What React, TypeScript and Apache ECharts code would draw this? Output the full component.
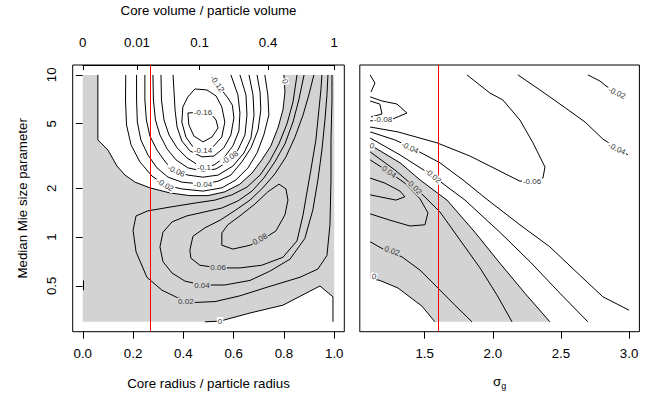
import React, { useEffect, useRef } from "react";
import * as echarts from "echarts";

type P = [number, number];
type L = [number, number, string];

// ---------- axes / ticks ----------
const leftXRange = [0, 1];
const rightXRange = [1.1, 3.0];
const yRange = [0.3, 10];
const leftXTicks = [0, 0.2, 0.4, 0.6, 0.8, 1.0];
const rightXTicks = [1.5, 2.0, 2.5, 3.0];
const yTicks = [0.5, 1, 2, 5, 10];
const volumeTicks = [0, 0.01, 0.1, 0.4, 1];
const leftRedX = 0.27;
const rightRedX = 1.6;

// ---------- left panel: core radius ratio vs median size parameter ----------
const leftZeroUpper: P[] = [[0.060,10],[0.060,3.97],[0.100,3.44],[0.136,2.74],[0.168,2.41],[0.208,2.18],[0.267,2.01],[0.347,1.87],[0.426,1.80],[0.498,1.80],[0.565,1.90],[0.625,2.12],[0.673,2.48],[0.712,2.99],[0.748,3.65],[0.776,4.70],[0.796,6.07],[0.804,7.84],[0.800,10]];
const leftZeroLower: P[] = [[0.486,0.30],[0.546,0.303],[0.665,0.34],[0.796,0.38],[0.943,0.499],[0.995,0.428],[0.995,0.30]];
const leftM002: P[] = [[0.171,10],[0.170,7.0],[0.174,4.91],[0.192,3.70],[0.227,2.91],[0.275,2.38],[0.327,2.09],[0.394,1.98],[0.478,1.92],[0.553,2.01],[0.609,2.25],[0.657,2.67],[0.693,3.30],[0.720,4.26],[0.740,5.66],[0.736,7.52],[0.724,10]];
const leftM004: P[] = [[0.214,10],[0.214,7.0],[0.217,5.12],[0.231,3.97],[0.259,3.21],[0.295,2.67],[0.339,2.34],[0.394,2.18],[0.478,2.12],[0.538,2.21],[0.589,2.41],[0.633,2.91],[0.669,3.55],[0.697,4.57],[0.708,6.07],[0.705,7.84],[0.693,10]];
const leftM006: P[] = [[0.247,10],[0.247,7.0],[0.253,5.27],[0.267,4.20],[0.295,3.44],[0.331,2.87],[0.367,2.55],[0.418,2.41],[0.478,2.34],[0.538,2.41],[0.597,2.74],[0.641,3.30],[0.669,4.08],[0.681,5.66],[0.677,7.52],[0.661,10]];
const leftM008: P[] = [[0.279,10],[0.281,7.0],[0.289,5.27],[0.307,4.26],[0.335,3.50],[0.371,2.99],[0.418,2.67],[0.478,2.55],[0.530,2.63],[0.577,2.91],[0.617,3.44],[0.645,4.26],[0.653,5.66],[0.649,7.52],[0.625,10]];
const leftM010: P[] = [[0.311,10],[0.313,7.0],[0.323,5.27],[0.343,4.26],[0.375,3.55],[0.414,3.08],[0.458,2.78],[0.486,2.70],[0.522,2.78],[0.561,3.08],[0.597,3.65],[0.621,4.51],[0.625,5.82],[0.617,7.52],[0.589,10]];
const leftM012: P[] = [[0.359,10],[0.363,7.84],[0.367,6.07],[0.375,4.77],[0.394,3.91],[0.426,3.40],[0.474,3.12],[0.522,3.16],[0.561,3.55],[0.589,4.26],[0.601,5.42],[0.595,6.5],[0.577,7.21],[0.546,8.3],[0.514,10]];
const leftM014: P[] = [[0.398,6.34],[0.418,7.32],[0.446,8.19],[0.494,8.07],[0.530,7.42],[0.553,6.34],[0.565,5.12],[0.553,4.14],[0.518,3.60],[0.478,3.44],[0.438,3.60],[0.410,4.14],[0.394,5.12],[0.398,6.34]];
const leftM016: P[] = [[0.418,5.82],[0.478,5.90],[0.506,5.82],[0.530,5.27],[0.538,4.70],[0.514,4.14],[0.478,3.86],[0.442,4.20],[0.422,4.91],[0.418,5.82]];
const leftP002: P[] = [[0.852,10],[0.836,6.80],[0.812,4.98],[0.780,3.75],[0.744,2.95],[0.705,2.41],[0.653,2.03],[0.593,1.82],[0.526,1.69],[0.446,1.62],[0.347,1.53],[0.259,1.45],[0.212,1.35],[0.200,1.10],[0.212,0.81],[0.255,0.565],[0.315,0.47],[0.375,0.424],[0.446,0.395],[0.526,0.40],[0.625,0.434],[0.736,0.492],[0.864,0.565],[0.935,0.635],[0.971,0.77],[0.983,1.19],[0.987,2.25],[0.987,3.97],[0.991,7.0],[0.991,10]];
const leftP004: P[] = [[0.880,10],[0.859,7.0],[0.836,5.12],[0.804,3.75],[0.764,2.91],[0.720,2.31],[0.673,1.92],[0.617,1.67],[0.553,1.51],[0.486,1.43],[0.414,1.35],[0.355,1.24],[0.319,1.07],[0.307,0.87],[0.319,0.705],[0.355,0.60],[0.406,0.535],[0.474,0.506],[0.565,0.506],[0.665,0.54],[0.744,0.616],[0.824,0.73],[0.883,0.98],[0.915,1.47],[0.935,2.25],[0.951,3.44],[0.963,5.27],[0.971,7.52],[0.975,10]];
const leftP006: P[] = [[0.919,10],[0.899,7.52],[0.876,5.66],[0.844,4.14],[0.808,3.12],[0.764,2.45],[0.716,2.01],[0.665,1.69],[0.609,1.47],[0.546,1.27],[0.486,1.14],[0.438,1.01],[0.426,0.83],[0.430,0.74],[0.466,0.67],[0.538,0.645],[0.625,0.645],[0.712,0.67],[0.796,0.75],[0.852,0.947],[0.876,1.37],[0.891,1.87],[0.907,2.59],[0.927,3.97],[0.939,6.07],[0.947,8.07],[0.951,10]];
const leftP008: P[] = [[0.553,1.06],[0.553,0.89],[0.597,0.843],[0.665,0.89],[0.712,0.96],[0.768,1.09],[0.804,1.37],[0.816,1.69],[0.808,1.98],[0.780,2.12],[0.736,1.90],[0.685,1.60],[0.625,1.35],[0.577,1.19],[0.553,1.06]];
const leftStub: P[] = [[0.003,0.54],[0.003,0.47]];

const leftLabels: L[] = [[0.478,5.90,"-0.16"],[0.478,3.44,"-0.14"],[0.534,8.8,"-0.12"],[0.482,2.70,"-0.1"],[0.585,3.08,"-0.08"],[0.371,2.55,"-0.06"],[0.478,2.12,"-0.04"],[0.327,2.09,"-0.02"],[0.804,9.1,"0"],[0.705,0.97,"0.08"],[0.538,0.645,"0.06"],[0.474,0.506,"0.04"],[0.410,0.40,"0.02"],[0.546,0.303,"0"]];
const leftLabelAngles = [0, 0, -55, 0, 35, -25, 0, -30, -75, 30, 0, 0, 0, 0];

// ---------- right panel: sigma_g vs median size parameter ----------
const rightZeroUpper: P[] = [[1.1,3.70],[1.319,2.87],[1.466,2.25],[1.612,1.82],[1.664,1.69],[1.869,1.07],[2.052,0.69],[2.236,0.45],[2.419,0.30]];
const rightZeroLower: P[] = [[1.1,0.555],[1.171,0.54],[1.304,0.485],[1.480,0.375],[1.575,0.30]];
const rightM006: P[] = [[1.1,4.77],[1.304,4.45],[1.590,3.81],[1.832,3.16],[1.979,2.74],[2.199,2.21],[2.368,2.31],[2.383,2.70],[2.295,3.81],[2.199,5.27],[2.074,7.0],[1.979,7.73],[1.810,10]];
const rightM004Lower: P[] = [[1.1,4.45],[1.282,3.97],[1.392,3.60],[1.612,2.87],[1.781,2.25],[1.964,1.69],[2.199,1.19],[2.419,0.87],[2.640,0.58],[2.808,0.428],[3.0,0.354]];
const rightM002Lower: P[] = [[1.1,4.08],[1.319,3.21],[1.561,2.38],[1.649,2.09],[1.796,1.69],[2.052,1.07],[2.273,0.705],[2.493,0.45],[2.698,0.30]];
const rightP002Upper: P[] = [[1.1,3.35],[1.282,2.59],[1.428,2.03],[1.612,1.43],[1.759,0.96],[1.906,0.645],[2.030,0.44],[2.141,0.30]];
const rightP004: P[] = [[1.1,2.99],[1.238,2.52],[1.355,2.15],[1.466,1.72],[1.524,1.41],[1.502,1.19],[1.392,1.17],[1.245,1.27],[1.1,1.39]];
const rightP006: P[] = [[1.1,2.31],[1.209,2.15],[1.319,1.92],[1.355,1.77],[1.289,1.69],[1.171,1.77],[1.1,1.82]];
const rightP002Lower: P[] = [[1.1,0.935],[1.209,0.83],[1.333,0.755],[1.466,0.625],[1.590,0.492],[1.722,0.38],[1.847,0.30]];
const rightM004Upper: P[] = [[2.184,10],[2.346,8.07],[2.493,6.61],[2.677,5.12],[2.808,4.02],[2.992,3.21]];
const rightM002Upper: P[] = [[2.698,10],[2.786,9.17],[2.831,8.54],[2.97,7.32]];
const rightM008: P[] = [[1.1,7.32],[1.187,6.9],[1.297,6.61],[1.370,5.82],[1.319,5.58],[1.267,5.35],[1.1,5.2]];
const rightM010a: P[] = [[1.1,10],[1.135,8.9],[1.106,7.84]];
const rightM010b: P[] = [[1.1,6.9],[1.171,6.61],[1.187,5.74],[1.106,5.5]];

const rightLabels: L[] = [[1.113,3.65,"0"],[1.392,3.55,"-0.04"],[1.561,2.38,"-0.02"],[1.238,2.52,"0.04"],[1.428,2.01,"0.02"],[1.260,0.82,"0.02"],[1.128,0.57,"0"],[1.194,5.27,"-0.08"],[2.288,2.21,"-0.06"],[2.911,3.50,"-0.04"],[2.911,7.73,"-0.02"]];
const rightLabelAngles = [-20, -25, -40, -35, -45, -20, -15, 0, 0, -25, -25];

// ---------- styling ----------
const FONT = "'Liberation Sans', Arial, Helvetica, sans-serif";
const GRAY = "#d3d3d3";
const FS = 13.3;

const pad = (r: number[], log = false) => {
  if (log) {
    const lo = Math.log10(r[0]), hi = Math.log10(r[1]), d = 0.04 * (hi - lo);
    return [Math.pow(10, lo - d), Math.pow(10, hi + d)];
  }
  const d = 0.04 * (r[1] - r[0]);
  return [r[0] - d, r[1] + d];
};

function buildOption(): any {
  const [lxMin, lxMax] = pad(leftXRange);
  const [rxMin, rxMax] = pad(rightXRange);
  const [yMin, yMax] = pad(yRange, true);
  const radiusTicks = volumeTicks.map((v) => Math.cbrt(v));

  const leftLower = [...leftZeroLower].reverse().slice(1);
  const leftGray: P[] = [
    [leftXRange[0], yRange[1]],
    ...leftZeroUpper,
    [leftXRange[1], yRange[1]],
    [leftXRange[1], leftLower[0][1]],
    ...leftLower,
    [leftXRange[0], yRange[0]],
  ];
  const rightGray: P[] = [...rightZeroUpper, ...[...rightZeroLower].reverse()];

  const poly = (pts: P[], i: number) => ({
    type: "custom",
    xAxisIndex: i,
    yAxisIndex: i,
    silent: true,
    z: 1,
    data: [pts[0]],
    renderItem: (_p: any, api: any) => ({
      type: "polygon",
      shape: { points: pts.map((q) => api.coord(q)) },
      style: { fill: GRAY, stroke: null },
    }),
  });

  const line = (pts: P[], i: number, extra: any = {}) => ({
    type: "line",
    xAxisIndex: i,
    yAxisIndex: i,
    data: pts,
    symbol: "none",
    showSymbol: false,
    silent: true,
    z: 3,
    lineStyle: { color: "#000", width: 1 },
    ...extra,
  });

  const red = (x: number) => ({
    markLine: {
      silent: true,
      symbol: ["none", "none"],
      label: { show: false },
      lineStyle: { color: "#ff0000", width: 1, type: "solid" },
      data: [{ xAxis: x }],
    },
  });

  const labels = (ls: L[], angles: number[], i: number) => ({
    type: "custom",
    xAxisIndex: i,
    yAxisIndex: i,
    silent: true,
    z: 6,
    data: ls.map((l) => [l[0], l[1]]),
    renderItem: (params: any, api: any) => {
      const l = ls[params.dataIndex];
      const p = api.coord([l[0], l[1]]);
      const v = parseFloat(l[2]);
      return {
        type: "text",
        x: p[0],
        y: p[1],
        rotation: (angles[params.dataIndex] * Math.PI) / 180,
        style: {
          text: l[2],
          fontSize: 8,
          fontFamily: FONT,
          fill: "#333",
          align: "center",
          verticalAlign: "middle",
          backgroundColor: v > 0 ? GRAY : "#fff",
          padding: [0, 1],
        },
      };
    },
  });

  const leftLines = [leftZeroUpper, leftZeroLower, leftM002, leftM004, leftM006, leftM008, leftM010, leftM012, leftM014, leftM016, leftP002, leftP004, leftP006, leftP008, leftStub];
  const rightLines = [rightZeroUpper, rightZeroLower, rightM006, rightM004Lower, rightM002Lower, rightP002Upper, rightP004, rightP006, rightP002Lower, rightM004Upper, rightM002Upper, rightM008, rightM010a, rightM010b];

  const tickStyle = { lineStyle: { color: "#000", width: 1 } };
  const labelStyle = { fontSize: FS, color: "#000", fontFamily: FONT };

  return {
    animation: false,
    backgroundColor: "#fff",
    textStyle: { fontFamily: FONT },
    grid: [
      { left: 72.7, top: 65, width: 271.6, height: 266.7, show: true, borderColor: "#000", borderWidth: 1, backgroundColor: "transparent" },
      { left: 359.8, top: 65, width: 279.6, height: 266.7, show: true, borderColor: "#000", borderWidth: 1, backgroundColor: "transparent" },
      { left: 82.8, top: 60, width: 251.5, height: 5, show: false },
    ],
    xAxis: [
      {
        gridIndex: 0, type: "value", min: lxMin, max: lxMax,
        axisLine: { show: false }, splitLine: { show: false },
        axisTick: { show: true, customValues: leftXTicks, length: 7, ...tickStyle },
        axisLabel: { customValues: leftXTicks, formatter: (v: number) => v.toFixed(1), margin: 15, ...labelStyle },
        name: "Core radius / particle radius", nameLocation: "middle", nameGap: 45,
        nameTextStyle: { fontSize: FS, color: "#000" },
      },
      {
        gridIndex: 1, type: "value", min: rxMin, max: rxMax,
        axisLine: { show: false }, splitLine: { show: false },
        axisTick: { show: true, customValues: rightXTicks, length: 7, ...tickStyle },
        axisLabel: { customValues: rightXTicks, formatter: (v: number) => v.toFixed(1), margin: 15, ...labelStyle },
        name: "{s|σ}{g|g}", nameLocation: "middle", nameGap: 41,
        nameTextStyle: {
          color: "#000",
          rich: {
            s: { fontSize: FS, lineHeight: 18, verticalAlign: "middle", color: "#000", fontFamily: FONT },
            g: { fontSize: 9, lineHeight: 18, verticalAlign: "bottom", color: "#000", fontFamily: FONT },
          },
        },
      },
      {
        gridIndex: 2, type: "value", position: "top", min: 0, max: 1,
        axisLine: { show: true, lineStyle: { color: "#000", width: 1 } }, splitLine: { show: false },
        axisTick: { show: true, inside: true, customValues: radiusTicks, length: 5, ...tickStyle },
        axisLabel: {
          customValues: radiusTicks,
          formatter: (v: number) => {
            const t = volumeTicks.find((w) => Math.abs(Math.cbrt(w) - v) < 1e-6);
            return t === undefined ? "" : String(t);
          },
          margin: 11, ...labelStyle,
        },
        name: "Core volume / particle volume", nameLocation: "middle", nameGap: 43,
        nameTextStyle: { fontSize: FS, color: "#000" },
      },
    ],
    yAxis: [
      {
        gridIndex: 0, type: "log", logBase: 10, min: yMin, max: yMax,
        axisLine: { show: false }, splitLine: { show: false },
        axisTick: { show: true, customValues: yTicks, length: 7, ...tickStyle },
        axisLabel: { customValues: yTicks, rotate: 90, margin: 15, formatter: (v: number) => String(v), ...labelStyle },
        name: "Median Mie size parameter", nameLocation: "middle", nameGap: 44, nameRotate: 90,
        nameTextStyle: { fontSize: FS, color: "#000" },
      },
      { gridIndex: 1, type: "log", logBase: 10, min: yMin, max: yMax, show: false, splitLine: { show: false } },
      { gridIndex: 2, type: "value", show: false, splitLine: { show: false } },
    ],
    series: [
      poly(leftGray, 0),
      poly(rightGray, 1),
      ...leftLines.map((l, k) => line(l, 0, k === 0 ? red(leftRedX) : {})),
      ...rightLines.map((l, k) => line(l, 1, k === 0 ? red(rightRedX) : {})),
      labels(leftLabels, leftLabelAngles, 0),
      labels(rightLabels, rightLabelAngles, 1),
    ],
  };
}

export default function App() {
  const ref = useRef<HTMLDivElement>(null);
  useEffect(() => {
    if (!ref.current) return;
    const chart = echarts.init(ref.current, null, { renderer: "svg" });
    chart.setOption(buildOption());
    return () => chart.dispose();
  }, []);
  return (
    <div
      ref={ref}
      style={{ position: "fixed", left: 0, top: 0, width: 649, height: 399, background: "#fff" }}
    />
  );
}
